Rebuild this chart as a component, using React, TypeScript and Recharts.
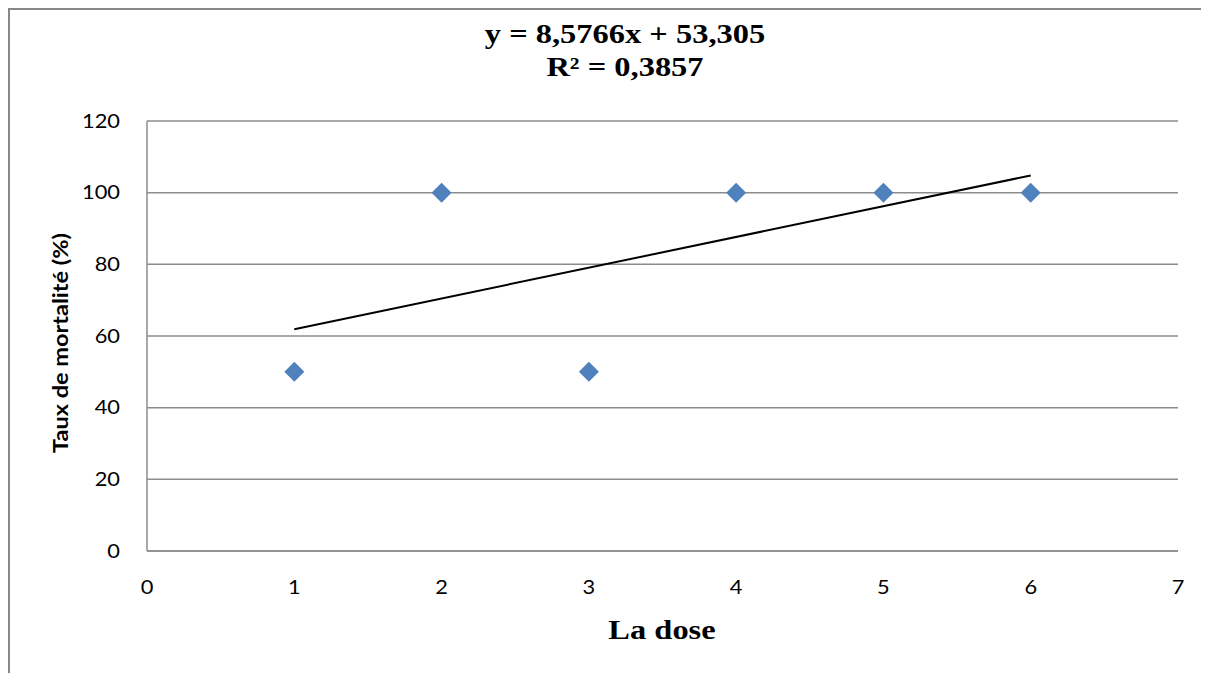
import React from "react";
import { ScatterChart, Scatter, XAxis, YAxis, CartesianGrid } from "recharts";

const doses = [1, 2, 3, 4, 5, 6];
const mortality = [50, 100, 50, 100, 100, 100];
const trendX = [1, 6];
const trendY = [61.9, 104.8];
const xTicks = [0, 1, 2, 3, 4, 5, 6, 7];
const yTicks = [0, 20, 40, 60, 80, 100, 120];

const points = doses.map((d, i) => ({ x: d, y: mortality[i] }));
const trend = trendX.map((d, i) => ({ x: d, y: trendY[i] }));

const SX = 1.18;

const Diamond = (props: any) => {
  const { cx, cy } = props;
  if (cx == null || cy == null) return null;
  const r = 10;
  return (
    <polygon
      points={`${cx},${cy - r} ${cx + r},${cy} ${cx},${cy + r} ${cx - r},${cy}`}
      fill="#4F81BD"
    />
  );
};

const tickFamily = "Lato, 'Open Sans', sans-serif";

const XTick = (props: any) => {
  const { x, y, payload } = props;
  return (
    <text
      transform={`translate(${x},${y + 41}) scale(${SX},1)`}
      textAnchor="middle"
      fontFamily={tickFamily}
      fontSize={18.5}
      fill="#000"
    >
      {payload.value}
    </text>
  );
};

const YTick = (props: any) => {
  const { x, y, payload } = props;
  return (
    <text
      transform={`translate(${x - 25},${y + 6.5}) scale(${SX},1)`}
      textAnchor="end"
      fontFamily={tickFamily}
      fontSize={18.5}
      fill="#000"
    >
      {payload.value}
    </text>
  );
};

const serifTitle: React.CSSProperties = {
  fontFamily: "'Liberation Serif', 'Times New Roman', serif",
  fontWeight: "bold",
  fontSize: 27.5,
  lineHeight: "33px",
  color: "#000",
  whiteSpace: "nowrap",
};

export default function App() {
  return (
    <div
      style={{
        position: "relative",
        width: 1199,
        height: 665,
        overflow: "hidden",
        background: "#fff",
      }}
    >
      <style>{"html,body{overflow:hidden;background:#fff;}"}</style>
      <div
        style={{
          position: "absolute",
          left: 0,
          top: 0,
          width: 1199,
          height: 2,
          background: "#878787",
        }}
      />
      <div
        style={{
          position: "absolute",
          left: 0,
          top: 0,
          width: 2,
          height: 665,
          background: "#878787",
        }}
      />
      <div
        style={{
          ...serifTitle,
          position: "absolute",
          left: 317,
          top: 9,
          width: 600,
          textAlign: "center",
          transform: `scaleX(${SX})`,
        }}
      >
        <div>y = 8,5766x + 53,305</div>
        <div>R² = 0,3857</div>
      </div>
      <div
        style={{
          ...serifTitle,
          position: "absolute",
          left: 554,
          top: 605,
          width: 200,
          textAlign: "center",
          transform: `scaleX(${SX})`,
        }}
      >
        La dose
      </div>
      <div
        style={{
          position: "absolute",
          left: 52,
          top: 335,
          width: 0,
          height: 0,
        }}
      >
        <div
          style={{
            position: "absolute",
            left: -150,
            top: -13,
            width: 300,
            textAlign: "center",
            transform: "rotate(-90deg) scaleX(1.12)",
            fontFamily: tickFamily,
            fontWeight: "bold",
            fontSize: 21,
            lineHeight: "26px",
            color: "#000",
            whiteSpace: "nowrap",
          }}
        >
          Taux de mortalité (%)
        </div>
      </div>
      <div style={{ position: "absolute", left: 2, top: 2 }}>
        <ScatterChart
          width={1197}
          height={663}
          margin={{ top: 111, right: 29, bottom: 92, left: 77 }}
        >
          <CartesianGrid horizontal={true} vertical={false} stroke="#8c8c8c" strokeWidth={1.5} />
          <XAxis
            type="number"
            dataKey="x"
            domain={[0, 7]}
            ticks={xTicks}
            tickLine={false}
            tickSize={0}
            axisLine={{ stroke: "#8c8c8c", strokeWidth: 1.5 }}
            tick={<XTick />}
            height={30}
            interval={0}
          />
          <YAxis
            type="number"
            dataKey="y"
            domain={[0, 120]}
            ticks={yTicks}
            tickLine={false}
            tickSize={0}
            axisLine={{ stroke: "#8c8c8c", strokeWidth: 1.5 }}
            tick={<YTick />}
            width={60}
            interval={0}
          />
          <Scatter
            data={trend}
            line={{ stroke: "#000", strokeWidth: 2 }}
            shape={() => null}
            isAnimationActive={false}
          />
          <Scatter data={points} shape={Diamond} isAnimationActive={false} />
        </ScatterChart>
      </div>
    </div>
  );
}
